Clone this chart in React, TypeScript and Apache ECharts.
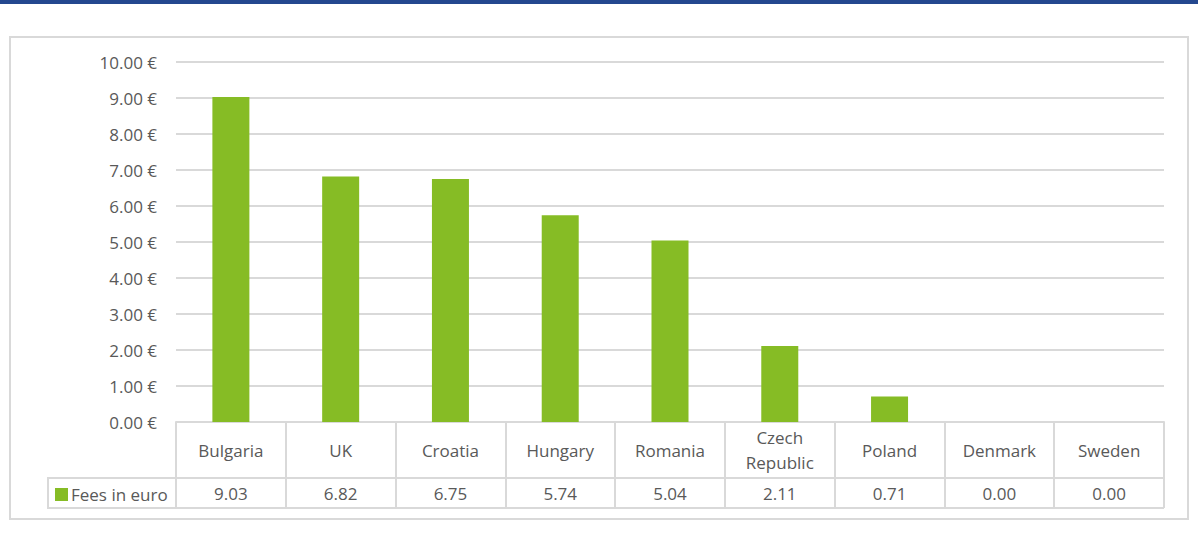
import React, { useEffect, useRef } from "react";
import * as echarts from "echarts";

const categories = ["Bulgaria", "UK", "Croatia", "Hungary", "Romania", "Czech Republic", "Poland", "Denmark", "Sweden"];
const fees = [9.03, 6.82, 6.75, 5.74, 5.04, 2.11, 0.71, 0.0, 0.0];
const seriesName = "Fees in euro";
const yTicks = [0, 1, 2, 3, 4, 5, 6, 7, 8, 9, 10];

const FONT = "Open Sans";
const FS = 17;
const TEXT = "#595959";
const LINE = "#d9d9d9";
const GREEN = "#86bc25";

export default function App() {
  const ref = useRef<HTMLDivElement>(null);
  useEffect(() => {
    if (!ref.current) return;
    const chart = echarts.init(ref.current, undefined, { renderer: "svg" });
    chart.setOption({
      animation: false,
      backgroundColor: "#ffffff",
      textStyle: { fontFamily: FONT, color: TEXT },
      grid: { left: 176, right: 34, top: 62, bottom: 115, containLabel: false },
      legend: {
        data: [seriesName],
        left: 50,
        top: 481,
        itemWidth: 13,
        itemHeight: 13,
        itemGap: 4,
        icon: "rect",
        selectedMode: false,
        textStyle: { fontFamily: FONT, fontSize: FS, color: TEXT, padding: [0, 0, 0, -2] },
      },
      xAxis: [
        {
          type: "category",
          data: categories,
          position: "bottom",
          axisLine: { show: true, lineStyle: { color: LINE, width: 2 } },
          axisTick: { show: true, interval: 0, length: 86, lineStyle: { color: LINE, width: 2 } },
          axisLabel: {
            interval: 0,
            margin: 28,
            verticalAlign: "middle",
            lineHeight: 25,
            fontFamily: FONT,
            fontSize: FS,
            color: TEXT,
            formatter: (v: string) => v.replace(" ", "\n"),
          },
        },
        {
          type: "category",
          data: categories,
          position: "bottom",
          axisLine: { show: false },
          axisTick: { show: false },
          axisLabel: {
            interval: 0,
            margin: 71,
            verticalAlign: "middle",
            fontFamily: FONT,
            fontSize: FS,
            color: TEXT,
            formatter: (_v: string, i: number) => fees[i].toFixed(2),
          },
        },
      ],
      yAxis: {
        type: "value",
        min: yTicks[0],
        max: yTicks[yTicks.length - 1],
        interval: 1,
        axisLine: { show: false },
        axisTick: { show: false },
        splitLine: { show: true, lineStyle: { color: LINE, width: 2 } },
        axisLabel: {
          margin: 19,
          fontFamily: FONT,
          fontSize: FS,
          color: TEXT,
          formatter: (v: number) => `${v.toFixed(2)} €`,
        },
      },
      series: [
        {
          name: seriesName,
          type: "bar",
          data: fees,
          barWidth: 37,
          itemStyle: { color: GREEN },
          xAxisIndex: 0,
        },
      ],
      graphic: [
        { type: "rect", shape: { x: 0, y: 0, width: 1198, height: 4 }, style: { fill: "#24488f" }, z: 10 },
        { type: "rect", shape: { x: 10, y: 37, width: 1178, height: 482 }, style: { fill: "none", stroke: LINE, lineWidth: 2 }, z: 0 },
        { type: "line", shape: { x1: 48, y1: 478, x2: 1164, y2: 478 }, style: { stroke: LINE, lineWidth: 2 }, z: 10 },
        { type: "line", shape: { x1: 48, y1: 508, x2: 1164, y2: 508 }, style: { stroke: LINE, lineWidth: 2 }, z: 10 },
        { type: "line", shape: { x1: 48, y1: 477, x2: 48, y2: 509 }, style: { stroke: LINE, lineWidth: 2 }, z: 10 },
      ],
    });
    return () => chart.dispose();
  }, []);
  return <div ref={ref} style={{ position: "absolute", left: 0, top: 0, width: 1198, height: 537 }} />;
}
